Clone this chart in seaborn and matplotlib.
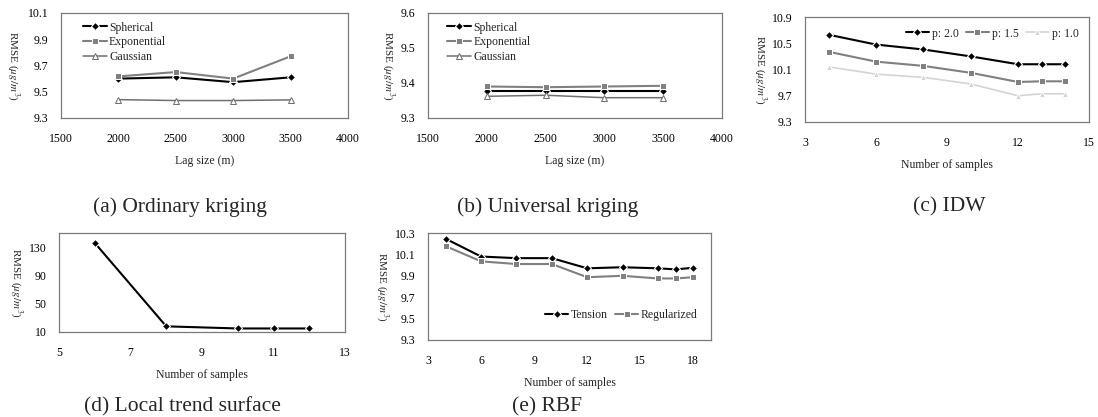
import numpy as np
import pandas as pd
import seaborn as sns
import matplotlib.pyplot as plt
from matplotlib.ticker import FormatStrFormatter

# (a) Ordinary kriging
lag_a = [2000, 2500, 3000, 3500]
ok_spherical = [9.60, 9.61, 9.573, 9.61]
ok_exponential = [9.617, 9.65, 9.60, 9.77]
ok_gaussian = [9.44, 9.433, 9.433, 9.438]

# (b) Universal kriging
lag_b = [2000, 2500, 3000, 3500]
uk_spherical = [9.378, 9.378, 9.378, 9.378]
uk_exponential = [9.39, 9.388, 9.39, 9.392]
uk_gaussian = [9.362, 9.365, 9.358, 9.358]

# (c) IDW
samples_c = [4, 6, 8, 10, 12, 13, 14]
idw_p20 = [10.63, 10.48, 10.405, 10.30, 10.18, 10.18, 10.18]
idw_p15 = [10.37, 10.22, 10.155, 10.05, 9.91, 9.92, 9.92]
idw_p10 = [10.14, 10.03, 9.98, 9.88, 9.70, 9.73, 9.73]

# (d) Local trend surface
samples_d = [6, 8, 10, 11, 12]
lts_rmse = [136, 18, 15, 15, 15]

# (e) RBF
samples_e = [4, 6, 8, 10, 12, 14, 16, 17, 18]
rbf_tension = [10.246, 10.08, 10.065, 10.065, 9.97, 9.98, 9.97, 9.96, 9.975]
rbf_regularized = [10.177, 10.035, 10.01, 10.01, 9.887, 9.90, 9.875, 9.875, 9.887]

captions = ['(a) Ordinary kriging', '(b) Universal kriging', '(c) IDW',
            '(d) Local trend surface', '(e) RBF']
ylabel_txt = 'RMSE ($\\mu g/m^3$)'

sns.set_theme(style='white')
plt.rcParams['font.family'] = ['Liberation Serif', 'DejaVu Serif']
plt.rcParams['mathtext.fontset'] = 'stix'

W, H = 1098, 417
fig = plt.figure(figsize=(W / 100, H / 100), dpi=100)


def add_ax(left, right, top, bottom):
    return fig.add_axes([left / W, 1 - bottom / H, (right - left) / W, (bottom - top) / H])


BLACK = '#000000'
GRAY = '#808080'
LIGHT = '#d4d4d4'

styles = {
    'sph': dict(color=BLACK, marker='D', markersize=4, linewidth=1.5),
    'exp': dict(color=GRAY, marker='s', markersize=4.5, linewidth=1.5),
    'gau': dict(color='#707070', marker='^', markersize=5, linewidth=1.1,
                markerfacecolor='white', markeredgecolor='#707070'),
    'light': dict(color=LIGHT, marker='^', markersize=4.5, linewidth=1.2),
}


def style_ax(ax, xlim, xticks, ylim, yticks, yfmt, xlabel, ylab_x):
    ax.set_xlim(*xlim)
    ax.set_ylim(*ylim)
    ax.set_xticks(xticks)
    ax.set_yticks(yticks)
    ax.yaxis.set_major_formatter(FormatStrFormatter(yfmt))
    for s in ax.spines.values():
        s.set_color('#7a7a7a')
        s.set_linewidth(0.9)
        s.set_visible(True)
    ax.tick_params(axis='both', direction='in', length=3, width=0.8, color='#7a7a7a',
                   labelsize=8.5, colors='black')
    ax.tick_params(axis='x', pad=11)
    ax.tick_params(axis='y', pad=9)
    ax.set_xlabel(xlabel, fontsize=8.5, labelpad=7)
    ax.set_ylabel('')
    ax.text(ylab_x, 0.5, ylabel_txt, transform=ax.transAxes, rotation=270,
            ha='center', va='center', fontsize=8)


# (a)
ax = add_ax(61, 348, 13, 118)
sns.lineplot(x=lag_a, y=ok_spherical, ax=ax, label='Spherical', **styles['sph'])
sns.lineplot(x=lag_a, y=ok_exponential, ax=ax, label='Exponential', **styles['exp'])
sns.lineplot(x=lag_a, y=ok_gaussian, ax=ax, label='Gaussian', **styles['gau'])
style_ax(ax, (1500, 4000), np.arange(1500, 4001, 500), (9.3, 10.1),
         [9.3, 9.5, 9.7, 9.9, 10.1], '%.1f', 'Lag size (m)', (13 - 61) / 287)
ax.legend(loc='upper left', bbox_to_anchor=(0.04, 1.02), frameon=False, fontsize=8.5,
          handlelength=2.0, handletextpad=0.2, labelspacing=0.25)

# (b)
ax = add_ax(428, 722, 13, 118)
sns.lineplot(x=lag_b, y=uk_spherical, ax=ax, label='Spherical', **styles['sph'])
sns.lineplot(x=lag_b, y=uk_exponential, ax=ax, label='Exponential', **styles['exp'])
sns.lineplot(x=lag_b, y=uk_gaussian, ax=ax, label='Gaussian', **styles['gau'])
style_ax(ax, (1500, 4000), np.arange(1500, 4001, 500), (9.3, 9.6),
         [9.3, 9.4, 9.5, 9.6], '%.1f', 'Lag size (m)', (388 - 428) / 294)
ax.legend(loc='upper left', bbox_to_anchor=(0.03, 1.02), frameon=False, fontsize=8.5,
          handlelength=2.0, handletextpad=0.2, labelspacing=0.25)

# (c)
ax = add_ax(805, 1089, 17, 122)
sns.lineplot(x=samples_c, y=idw_p20, ax=ax, label='p: 2.0', **styles['sph'])
sns.lineplot(x=samples_c, y=idw_p15, ax=ax, label='p: 1.5', **styles['exp'])
sns.lineplot(x=samples_c, y=idw_p10, ax=ax, label='p: 1.0', **styles['light'])
style_ax(ax, (3, 15), [3, 6, 9, 12, 15], (9.3, 10.9),
         [9.3, 9.7, 10.1, 10.5, 10.9], '%.1f', 'Number of samples', (760 - 805) / 284)
ax.legend(loc='upper right', bbox_to_anchor=(1.0, 1.0), ncol=3, frameon=False, fontsize=8.5,
          handlelength=2.0, handletextpad=0.2, columnspacing=0.6)

# (d)
ax = add_ax(59, 345, 233, 332)
sns.lineplot(x=samples_d, y=lts_rmse, ax=ax, **styles['sph'])
style_ax(ax, (5, 13), [5, 7, 9, 11, 13], (10, 150),
         [10, 50, 90, 130], '%d', 'Number of samples', (16 - 59) / 286)

# (e)
ax = add_ax(428, 711, 233, 340)
sns.lineplot(x=samples_e, y=rbf_tension, ax=ax, label='Tension', **styles['sph'])
sns.lineplot(x=samples_e, y=rbf_regularized, ax=ax, label='Regularized', **styles['exp'])
style_ax(ax, (3, 19), [3, 6, 9, 12, 15, 18], (9.3, 10.3),
         [9.3, 9.5, 9.7, 9.9, 10.1, 10.3], '%.1f', 'Number of samples', (382 - 428) / 283)
ax.legend(loc='lower right', bbox_to_anchor=(0.99, 0.08), ncol=2, frameon=False, fontsize=8.5,
          handlelength=2.0, handletextpad=0.2, columnspacing=0.6)

# captions
cap_pos = [(180, 207), (548, 207), (949, 207), (182, 407), (547, 407)]
for (cx, cy), txt in zip(cap_pos, captions):
    fig.text(cx / W, 1 - cy / H, txt, ha='center', va='center', fontsize=15.5)

fig.savefig('out.png', dpi=100)
